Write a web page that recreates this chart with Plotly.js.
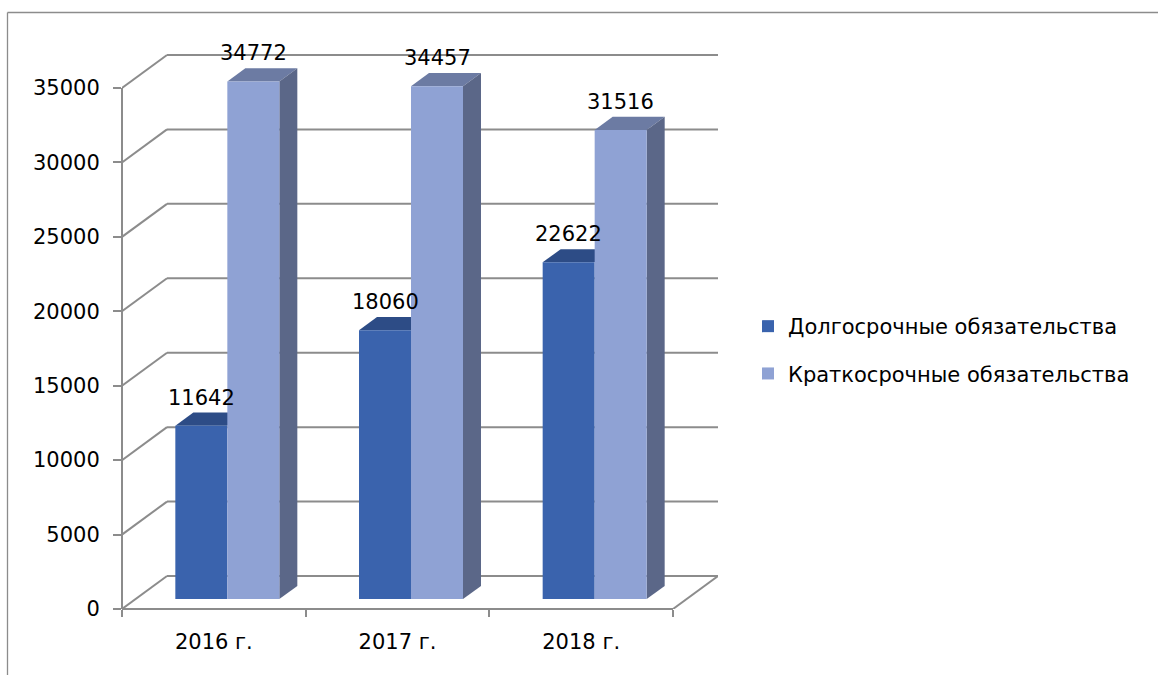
<!DOCTYPE html>
<html><head><meta charset="utf-8">
<script src="https://cdn.plot.ly/plotly-3.0.1.min.js"></script>
<style>html,body{margin:0;padding:0;background:#fff}#chart{width:1158px;height:675px}</style>
</head><body><div id="chart"></div>
<script>
// ---- data ----
const categories = ['2016 г.', '2017 г.', '2018 г.'];
const longTerm = [11642, 18060, 22622];
const shortTerm = [34772, 34457, 31516];
const seriesNames = ['Долгосрочные обязательства', 'Краткосрочные обязательства'];
const yTickVals = [0, 5000, 10000, 15000, 20000, 25000, 30000, 35000];

// ---- geometry / style ----
const W = 1158, H = 675, M = {l: 122, r: 440, t: 40, b: 66};
const plotW = W - M.l - M.r, plotH = H - M.t - M.b;
const yAxisMax = yTickVals[yTickVals.length - 1];
const pxPerY = 521 / yAxisMax;
const yTop = plotH / pxPerY;
const depthPx = {x: 45, y: 33};
const catPx = (plotW - depthPx.x) / categories.length;
const Dx = depthPx.x / catPx, Dy = depthPx.y / pxPerY;
const f1 = 0.3, f2 = 0.7;
const barW = 52 / catPx;
const n = categories.length;
const FONT = 'DejaVu Sans, sans-serif';
const FS = 21;
const gridColor = '#8c8c8c';
const colors = {
  darkFront: '#3A63AD', darkTop: '#2D4C86', darkSide: '#2A4478',
  lightFront: '#8FA2D4', lightTop: '#6C7BA3', lightSide: '#5B6788'
};
const series = [
  {name: seriesNames[0], values: longTerm, front: colors.darkFront, top: colors.darkTop, side: colors.darkSide},
  {name: seriesNames[1], values: shortTerm, front: colors.lightFront, top: colors.lightTop, side: colors.lightSide}
];

function pathOf(pts) {
  return 'M' + pts.map(p => p[0] + ',' + p[1]).join('L') + 'Z';
}

const shapes = [];
const lineStyle = {color: gridColor, width: 2};
// back wall gridlines and diagonals
yTickVals.forEach(v => {
  shapes.push({type: 'line', xref: 'x', yref: 'y', layer: 'below', x0: -0.5 + Dx, x1: n - 0.5 + Dx, y0: v + Dy, y1: v + Dy, line: lineStyle});
  shapes.push({type: 'line', xref: 'x', yref: 'y', layer: 'below', x0: -0.5, x1: -0.5 + Dx, y0: v, y1: v + Dy, line: lineStyle});
});
// floor: front edge and right diagonal
shapes.push({type: 'line', xref: 'x', yref: 'paper', layer: 'below', x0: -0.5, x1: n - 0.5, y0: 0, y1: 0, line: lineStyle});
shapes.push({type: 'line', xref: 'x', yref: 'y', layer: 'below', x0: n - 0.5, x1: n - 0.5 + Dx, y0: 0, y1: Dy, line: lineStyle});
// front vertical axis line
shapes.push({type: 'line', xref: 'paper', yref: 'y', layer: 'below', x0: 0, x1: 0, y0: 0, y1: yAxisMax, line: lineStyle});

// 3D faces of bars
const dd = (f2 - f1) * Dx;
const annotations = [];
categories.forEach((c, i) => {
  const pairLeft = i + f1 * Dx - barW;
  series.forEach((s, si) => {
    const v = s.values[i];
    const xl = pairLeft + si * barW, xr = xl + barW;
    const b = f1 * Dy;
    shapes.push({type: 'path', xref: 'x', yref: 'y', layer: 'below', line: {width: 0}, fillcolor: s.top,
      path: pathOf([[xl, v + b], [xr, v + b], [xr + dd, v + f2 * Dy], [xl + dd, v + f2 * Dy]])});
    const lower = si < series.length - 1 ? series[si + 1].values[i] : 0;
    if (v > lower) {
      shapes.push({type: 'path', xref: 'x', yref: 'y', layer: 'below', line: {width: 0}, fillcolor: s.side,
        path: pathOf([[xr, lower + b], [xr, v + b], [xr + dd, v + f2 * Dy], [xr + dd, lower + f2 * Dy]])});
    }
    annotations.push({xref: 'x', yref: 'y', x: (xl + xr) / 2, y: v + f2 * Dy, text: String(v),
      showarrow: false, yanchor: 'bottom', xanchor: 'center', yshift: 1,
      font: {family: FONT, size: FS, color: '#000'}});
  });
});

// outer chart border (pixel -> paper)
const px2x = p => (p - M.l) / plotW;
const py2y = p => (H - M.b - p) / plotH;
shapes.push({type: 'line', xref: 'paper', yref: 'paper', x0: px2x(7.5), x1: px2x(W), y0: py2y(12.5), y1: py2y(12.5), line: {color: gridColor, width: 1.3}});
shapes.push({type: 'line', xref: 'paper', yref: 'paper', x0: px2x(7.5), x1: px2x(7.5), y0: py2y(12.5), y1: py2y(H), line: {color: gridColor, width: 1.3}});

const traces = series.map((s, si) => ({
  type: 'bar', name: s.name, legendgroup: 'g' + si,
  x: categories.map((c, i) => i + f1 * Dx - barW + si * barW + barW / 2),
  y: s.values, base: f1 * Dy, width: barW,
  marker: {color: s.front, line: {width: 0}},
  hoverinfo: 'skip'
}));
traces.push({type: 'scatter', x: [], y: [], xaxis: 'x2', yaxis: 'y', showlegend: false, hoverinfo: 'skip'});

const xRange = [-0.5, n - 0.5 + Dx];
const layout = {
  width: W, height: H, margin: M,
  paper_bgcolor: '#fff', plot_bgcolor: 'rgba(0,0,0,0)',
  barmode: 'overlay', showlegend: true,
  font: {family: FONT, size: FS, color: '#000'},
  xaxis: {range: xRange, tickvals: categories.map((c, i) => i), ticktext: categories, ticks: '',
    showgrid: false, zeroline: false, showline: false, fixedrange: true,
    tickfont: {family: FONT, size: FS, color: '#000'}, ticklabelstandoff: 18},
  xaxis2: {overlaying: 'x', anchor: 'y', side: 'bottom', range: xRange,
    tickvals: Array.from({length: n + 1}, (d, k) => k - 0.5), showticklabels: false,
    ticks: 'outside', ticklen: 7, tickwidth: 2, tickcolor: gridColor,
    showgrid: false, zeroline: false, showline: false, fixedrange: true},
  yaxis: {range: [0, yTop], tickvals: yTickVals, ticktext: yTickVals.map(String),
    ticks: 'outside', ticklen: 8, tickwidth: 2, tickcolor: gridColor,
    showgrid: false, zeroline: false, showline: false, fixedrange: true,
    tickfont: {family: FONT, size: FS, color: '#000'}, ticklabelstandoff: 9},
  legend: {x: px2x(748), xanchor: 'left', y: py2y(350), yanchor: 'middle',
    font: {family: FONT, size: FS, color: '#000'}, tracegroupgap: 17, traceorder: 'grouped',
    bgcolor: 'rgba(0,0,0,0)'},
  shapes: shapes, annotations: annotations
};
Plotly.newPlot('chart', traces, layout, {staticPlot: true, displayModeBar: false});
</script></body></html>
